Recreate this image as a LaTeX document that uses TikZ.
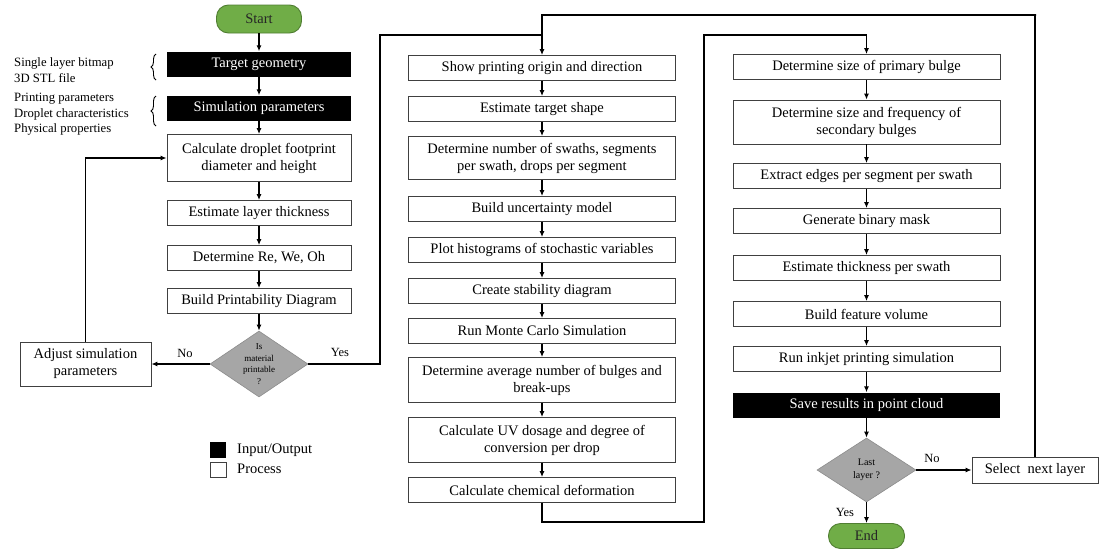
\documentclass[tikz,border=0pt]{standalone}
\usepackage{fontspec}
\setmainfont{Liberation Serif}
\usetikzlibrary{shapes.geometric,arrows.meta,decorations.pathreplacing}
\definecolor{termfill}{HTML}{70AD47}
\definecolor{termline}{HTML}{507E32}
\definecolor{decfill}{HTML}{A6A6A6}
\definecolor{decline}{HTML}{8C8C8C}
\definecolor{boxline}{HTML}{404040}
\tikzset{
  base/.style={inner sep=0pt, align=center, font=\fontsize{14.5}{17}\selectfont},
  procbox/.style={base, draw=boxline, line width=0.8pt, fill=white, minimum width=184, minimum height=25},
  midbox/.style={procbox, minimum width=267},
  iobox/.style={base, fill=black, text=white, minimum width=184, minimum height=25},
  iowide/.style={iobox, minimum width=267},
  term/.style={base, draw=termline, line width=0.9pt, fill=termfill, text=black!85, rounded corners=12pt},
  decision/.style={diamond, draw=decline, line width=0.6pt, fill=decfill, inner sep=0pt,
    minimum width=98, minimum height=66},
  dectext/.style={inner sep=0pt, align=center, font=\fontsize{9}{11.5}\selectfont},
  flow/.style={line width=1.2pt, -{Latex[length=6pt,width=5pt]}},
  wire/.style={line width=1.2pt},
  side/.style={anchor=west, inner sep=0pt, font=\fontsize{12.7}{14}\selectfont},
  lab/.style={inner sep=0pt, font=\fontsize{12.5}{14}\selectfont},
  brace/.style={decorate, decoration={brace, amplitude=5pt}, line width=0.9pt}
}
\begin{document}
\begin{tikzpicture}[x=1pt, y=-1pt]
\useasboundingbox (0,0) rectangle (1099,549);

% ---------------- left column ----------------
\node[term, minimum width=85, minimum height=28] (start) at (259,19) {Start};
\node[iobox] (tg) at (259,64) {Target geometry};
\node[iobox] (sp) at (259,108) {Simulation parameters};
\node[procbox, minimum height=47] (calc) at (259,158) {Calculate droplet footprint\\diameter and height};
\node[procbox] (elt) at (259,213) {Estimate layer thickness};
\node[procbox] (rwo) at (259,258) {Determine Re, We, Oh};
\node[procbox] (bpd) at (259,301) {Build Printability Diagram};
\node[decision] (d1) at (259,364) {};
\node[dectext] (d1t) at (d1.center) {Is\\material\\printable\\?};
\node[procbox, minimum width=131, minimum height=44] (adj) at (85.5,364) {Adjust simulation\\parameters};

% input annotations with braces
\node[side] (a1) at (14,63) {Single layer bitmap};
\node[side] (a2) at (14,78) {3D STL file};
\node[side] (b1) at (14,99) {Printing parameters};
\node[side] (b2) at (14,114) {Droplet characteristics};
\node[side] (b3) at (14,129) {Physical properties};
\draw[brace] (156,80) -- (156,54);
\draw[brace] (156,126) -- (156,96);

% legend
\node[fill=black, minimum width=16, minimum height=16, inner sep=0pt] (lgio) at (218,450) {};
\node[draw=boxline, line width=0.8pt, fill=white, minimum width=16, minimum height=15, inner sep=0pt] (lgpr) at (218,470) {};
\node[side, font=\fontsize{14.5}{16}\selectfont] (lgiot) at (237,450) {Input/Output};
\node[side, font=\fontsize{14.5}{16}\selectfont] (lgprt) at (237,469) {Process};

% ---------------- middle column ----------------
\node[midbox] (show) at (542,68) {Show printing origin and direction};
\node[midbox] (ets) at (542,109) {Estimate target shape};
\node[midbox, minimum height=43] (nsw) at (542,158) {Determine number of swaths, segments\\per swath, drops per segment};
\node[midbox] (bum) at (542,209) {Build uncertainty model};
\node[midbox] (phs) at (542,250) {Plot histograms of stochastic variables};
\node[midbox] (csd) at (542,291) {Create stability diagram};
\node[midbox] (rmc) at (542,331) {Run Monte Carlo Simulation};
\node[midbox, minimum height=45] (dan) at (542,380) {Determine average number of bulges and\\break-ups};
\node[midbox, minimum height=45] (cuv) at (542,440) {Calculate UV dosage and degree of\\conversion per drop};
\node[midbox] (ccd) at (542,490) {Calculate chemical deformation};

% ---------------- right column ----------------
\node[midbox] (prim) at (866.5,67) {Determine size of primary bulge};
\node[midbox, minimum height=44] (sec) at (866.5,122) {Determine size and frequency of\\secondary bulges};
\node[midbox] (edg) at (866.5,176) {Extract edges per segment per swath};
\node[midbox] (bin) at (866.5,221) {Generate binary mask};
\node[midbox] (thk) at (866.5,268) {Estimate thickness per swath};
\node[midbox] (bfv) at (866.5,314) {Build feature volume};
\node[midbox] (rip) at (866.5,359) {Run inkjet printing simulation};
\node[iowide] (sav) at (866.5,405) {Save results in point cloud};
\node[decision, minimum width=99, minimum height=64] (d2) at (866.5,470) {};
\node[dectext, font=\fontsize{10}{13}\selectfont] (d2t) at (d2.center) {Last\\layer ?};
\node[term, minimum width=76, minimum height=25, font=\fontsize{14.5}{16}\selectfont] (fin) at (866.5,536) {End};
\node[procbox, minimum width=126, minimum height=26] (sel) at (1035,470) {Select\ \ next layer};

% ---------------- routing points ----------------
\coordinate (yesUp) at (380,35);
\coordinate (yesJoin) at (543,35);
\coordinate (midLow) at (704,522);
\coordinate (midTop) at (704,35);
\coordinate (loopTop) at (1036,15);

% ---------------- connectors: left ----------------
\draw[flow] (start) -- (tg);
\draw[flow] (tg) -- (sp);
\draw[flow] (sp) -- (calc);
\draw[flow] (calc) -- (elt);
\draw[flow] (elt) -- (rwo);
\draw[flow] (rwo) -- (bpd);
\draw[flow] (bpd) -- (d1);
\draw[flow] (d1.west) -- (adj.east);
\draw[flow] (adj.north) |- (calc.west);
\draw[wire] (d1.east) -| (yesUp) -- (yesJoin);
\node[lab] (lno1) at (185,353) {No};
\node[lab] (lyes1) at (340,352) {Yes};

% ---------------- connectors: middle ----------------
\draw[flow] (sel.north) |- (loopTop) -| (show.north);
\draw[flow] (show) -- (ets);
\draw[flow] (ets) -- (nsw);
\draw[flow] (nsw) -- (bum);
\draw[flow] (bum) -- (phs);
\draw[flow] (phs) -- (csd);
\draw[flow] (csd) -- (rmc);
\draw[flow] (rmc) -- (dan);
\draw[flow] (dan) -- (cuv);
\draw[flow] (cuv) -- (ccd);
\draw[flow] (ccd.south) |- (midLow) -- (midTop) -| (prim.north);

% ---------------- connectors: right ----------------
\draw[flow] (prim) -- (sec);
\draw[flow] (sec) -- (edg);
\draw[flow] (edg) -- (bin);
\draw[flow] (bin) -- (thk);
\draw[flow] (thk) -- (bfv);
\draw[flow] (bfv) -- (rip);
\draw[flow] (rip) -- (sav);
\draw[flow] (sav) -- (d2);
\draw[flow] (d2) -- (fin);
\draw[flow] (d2.east) -- (sel.west);
\node[lab] (lno2) at (932,458) {No};
\node[lab] (lyes2) at (845,512) {Yes};
\end{tikzpicture}
\end{document}
